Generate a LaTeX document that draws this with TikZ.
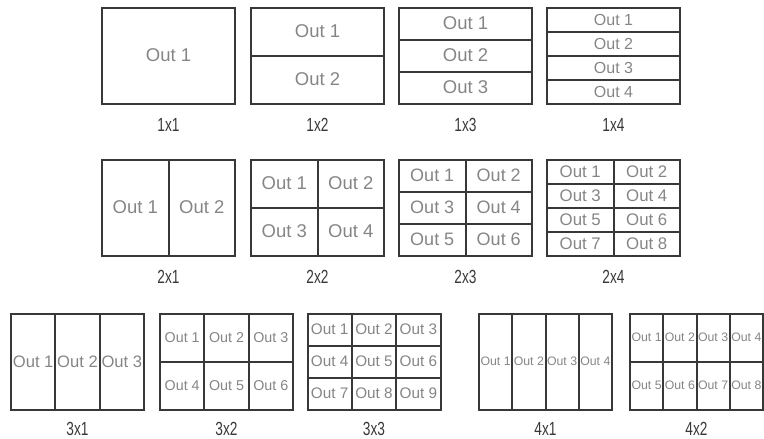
\documentclass[tikz,border=0pt]{standalone}
\usepackage{fontspec}
\setmainfont{Liberation Sans}
\definecolor{gridline}{HTML}{383838}
\definecolor{outtext}{HTML}{858585}
\tikzstyle{cell}=[rectangle,draw=gridline,line width=2pt,
                  inner sep=0pt,text=outtext]
\tikzstyle{caption}=[inner sep=0pt,text=gridline,
                     font=\fontsize{19}{19}\selectfont]

\begin{document}
\begin{tikzpicture}[x=1pt,y=-1pt]
    \useasboundingbox (0,0) rectangle (764,439);
    \newcommand{\bw}{133}
    \newcommand{\bh}{96}
    % name, left, top, columns, rows, font size, caption y
    \newcommand{\layout}[7]{%
      \foreach \r in {1,...,#5}
        \foreach \c in {1,...,#4} {
          \pgfmathtruncatemacro{\k}{(\r-1)*#4+\c}
          \node (#1-\k) at ({#2+(\c-0.5)*\bw/#4}, {#3+(\r-0.5)*\bh/#5})
            [cell, minimum width={\bw/#4}, minimum height={\bh/#5},
             font=\fontsize{#6}{#6}\selectfont] {Out \k};
        }
      \node (#1) at ({#2+\bw/2}, #7) [caption] {\scalebox{0.72}[1]{#1}};
    }
    \layout{1x1}{102}{7.5}{1}{1}{18.5}{125}
    \layout{1x2}{251}{7.5}{1}{2}{18.5}{125}
    \layout{1x3}{399}{7.5}{1}{3}{18.5}{125}
    \layout{1x4}{547}{7.5}{1}{4}{16}{125}
    \layout{2x1}{102}{159.5}{2}{1}{18.5}{277}
    \layout{2x2}{251}{159.5}{2}{2}{18.5}{277}
    \layout{2x3}{399}{159.5}{2}{3}{18}{277}
    \layout{2x4}{547}{159.5}{2}{4}{16.8}{277}
    \layout{3x1}{11}{313.5}{3}{1}{16.6}{429}
    \layout{3x2}{160}{313.5}{3}{2}{14.3}{429}
    \layout{3x3}{307.5}{313.5}{3}{3}{15.3}{429}
    \layout{4x1}{479}{313.5}{4}{1}{12.3}{429}
    \layout{4x2}{630}{313.5}{4}{2}{12.3}{429}
  \end{tikzpicture}
\end{document}
